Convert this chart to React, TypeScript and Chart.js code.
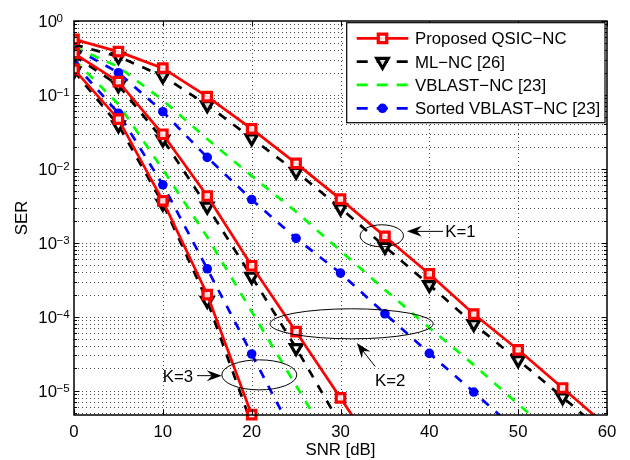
import React, { useEffect, useRef } from 'react';
import { Chart, registerables } from 'chart.js';

Chart.register(...registerables);

// ---------------- data ----------------
const snr = [0, 5, 10, 15, 20, 25, 30, 35, 40, 45, 50, 55, 60];

// K = 1
const proposedK1 = [0.566, 0.385, 0.23, 0.095, 0.0347, 0.0119, 0.0039, 0.00122, 3.8e-4, 1.09e-4, 3.58e-5, 1.09e-5, 3.3e-6];
const mlK1 = [0.48, 0.33, 0.18, 0.073, 0.026, 0.0092, 0.00295, 8.9e-4, 2.7e-4, 8.0e-5, 2.6e-5, 8.2e-6, 2.5e-6];

// K = 2
const proposedK2 = [0.366, 0.151, 0.0294, 0.0043, 4.9e-4, 6.3e-5, 8.0e-6, 1.0e-6];
const mlK2 = [0.34, 0.135, 0.025, 0.0031, 3.5e-4, 3.8e-5, 3.5e-6];
const vblastK2 = [0.447, 0.24, 0.085, 0.0254, 0.00803, 0.00263, 7.8e-4, 2.32e-4, 7.1e-5, 2.24e-5, 6.6e-6, 2.0e-6];
const sortedK2 = [0.43, 0.2, 0.0594, 0.0143, 0.00385, 0.00115, 3.9e-4, 1.1e-4, 3.2e-5, 9.6e-6, 2.8e-6];

// K = 3
const proposedK3 = [0.222, 0.047, 0.0037, 2.0e-4, 4.75e-6];
const mlK3 = [0.21, 0.039, 0.0034, 1.65e-4, 3.5e-6];
const vblastK3 = [0.3, 0.075, 0.0098, 0.0012, 1.18e-4, 1.17e-5, 1.2e-6];
const sortedK3 = [0.268, 0.0566, 0.0061, 4.46e-4, 3.14e-5, 2.2e-6];

// axes
const xMin = 0;
const xMax = 60;
const xTicks = [0, 10, 20, 30, 40, 50, 60];
const yMin = 4.7e-6;
const yMax = 1;
const yDecades = [0, -1, -2, -3, -4, -5];
const xTitle = 'SNR [dB]';
const yTitle = 'SER';

// legend
const legendLabels = ['Proposed QSIC\u2212NC', 'ML\u2212NC [26]', 'VBLAST\u2212NC [23]', 'Sorted VBLAST\u2212NC [23]'];

// annotations (data coordinates: SNR dB, SER)
const annotText = ['K=1', 'K=2', 'K=3'];
const annotTextX = [41.8, 35.6, 13.4];
const annotTextY = [1.45e-3, 1.39e-5, 1.6e-5];
const annotAlign = ['left', 'center', 'right'];
const ellipseCX = [34.65, 31.25, 20.86];
const ellipseCY = [1.245e-3, 8.04e-5, 1.64e-5];
const ellipseRX = [2.44, 9.18, 4.22]; // dB
const ellipseRY = [0.149, 0.203, 0.203]; // decades
const arrowFromX = [41.55, 33.9, 13.85];
const arrowFromY = [1.43e-3, 2.13e-5, 1.6e-5];
const arrowToX = [37.47, 31.84, 16.63];
const arrowToY = [1.43e-3, 4.41e-5, 1.6e-5];

// ---------------- styles ----------------
const FONT = '"Liberation Sans", Arial, Helvetica, sans-serif';
const RED = '#ff0000';
const BLACK = '#000000';
const GREEN = '#00ff00';
const BLUE = '#0000ff';
const DASH = [9, 9];
const LW = 2.7;
const SQ_R = 6;
const SQ_BW = 3.2;
const TRI_R = 6.6;
const TRI_BW = 3.2;
const DOT_R = 4.8;

const toPts = (vals: number[]) => vals.map((v, i) => ({ x: snr[i], y: v }));

const redStyle = {
  borderColor: RED, backgroundColor: RED, borderWidth: LW, borderDash: [],
  pointStyle: 'rect', pointRadius: SQ_R, pointBorderWidth: SQ_BW,
  pointBorderColor: RED, pointBackgroundColor: 'rgba(255,255,255,0.85)',
};
const blackStyle = {
  borderColor: BLACK, backgroundColor: BLACK, borderWidth: LW, borderDash: DASH,
  pointStyle: 'triangle', pointRotation: 180, pointRadius: TRI_R, pointBorderWidth: TRI_BW,
  pointBorderColor: BLACK, pointBackgroundColor: 'rgba(255,255,255,0.85)',
};
const greenStyle = {
  borderColor: GREEN, backgroundColor: GREEN, borderWidth: LW, borderDash: DASH,
  pointRadius: 0,
};
const blueStyle = {
  borderColor: BLUE, backgroundColor: BLUE, borderWidth: LW, borderDash: DASH,
  pointStyle: 'circle', pointRadius: DOT_R, pointBorderWidth: 0,
  pointBorderColor: BLUE, pointBackgroundColor: BLUE,
};

function drawMarker(ctx: CanvasRenderingContext2D, kind: number, x: number, y: number) {
  ctx.save();
  ctx.setLineDash([]);
  if (kind === 0) {
    const s = SQ_R * Math.SQRT1_2;
    ctx.fillStyle = 'rgba(255,255,255,0.85)';
    ctx.strokeStyle = RED;
    ctx.lineWidth = SQ_BW;
    ctx.beginPath();
    ctx.rect(x - s, y - s, 2 * s, 2 * s);
    ctx.fill();
    ctx.stroke();
  } else if (kind === 1) {
    const r = TRI_R;
    ctx.fillStyle = 'rgba(255,255,255,0.85)';
    ctx.strokeStyle = BLACK;
    ctx.lineWidth = TRI_BW;
    ctx.beginPath();
    ctx.moveTo(x, y + r);
    ctx.lineTo(x - r * Math.sin(Math.PI / 3), y - r / 2);
    ctx.lineTo(x + r * Math.sin(Math.PI / 3), y - r / 2);
    ctx.closePath();
    ctx.fill();
    ctx.stroke();
  } else if (kind === 3) {
    ctx.fillStyle = BLUE;
    ctx.beginPath();
    ctx.arc(x, y, DOT_R, 0, Math.PI * 2);
    ctx.fill();
  }
  ctx.restore();
}

const matlabPlugin = {
  id: 'matlabAxes',
  beforeDatasetsDraw(chart: any) {
    const { ctx, chartArea: a, scales } = chart;
    const xs = scales.x;
    const ys = scales.y;
    ctx.save();
    ctx.fillStyle = '#ffffff';
    ctx.fillRect(a.left, a.top, a.right - a.left, a.bottom - a.top);
    ctx.strokeStyle = 'rgba(0,0,0,0.7)';
    ctx.lineWidth = 1;
    ctx.setLineDash([1, 3]);
    for (const v of xTicks) {
      if (v <= xMin || v >= xMax) continue;
      const px = Math.round(xs.getPixelForValue(v)) + 0.5;
      ctx.beginPath();
      ctx.moveTo(px, a.top);
      ctx.lineTo(px, a.bottom);
      ctx.stroke();
    }
    for (let e = -6; e <= 0; e++) {
      for (let m = 1; m <= 9; m++) {
        const v = m * Math.pow(10, e);
        if (v <= yMin || v >= yMax) continue;
        const py = Math.round(ys.getPixelForValue(v)) + 0.5;
        ctx.beginPath();
        ctx.moveTo(a.left, py);
        ctx.lineTo(a.right, py);
        ctx.stroke();
      }
    }
    ctx.restore();
  },
  afterDatasetsDraw(chart: any) {
    const { ctx, chartArea: a, scales } = chart;
    const xs = scales.x;
    const ys = scales.y;
    ctx.save();

    // annotations
    ctx.strokeStyle = '#000';
    ctx.fillStyle = '#000';
    ctx.lineWidth = 1;
    ctx.setLineDash([]);
    for (let i = 0; i < annotText.length; i++) {
      const cx = xs.getPixelForValue(ellipseCX[i]);
      const cy = ys.getPixelForValue(ellipseCY[i]);
      const rx = xs.getPixelForValue(ellipseCX[i] + ellipseRX[i]) - cx;
      const ry = cy - ys.getPixelForValue(ellipseCY[i] * Math.pow(10, ellipseRY[i]));
      ctx.beginPath();
      ctx.ellipse(cx, cy, rx, ry, 0, 0, Math.PI * 2);
      ctx.stroke();

      const fx = xs.getPixelForValue(arrowFromX[i]);
      const fy = ys.getPixelForValue(arrowFromY[i]);
      const tx = xs.getPixelForValue(arrowToX[i]);
      const ty = ys.getPixelForValue(arrowToY[i]);
      const len = Math.hypot(tx - fx, ty - fy);
      const ux = (tx - fx) / len;
      const uy = (ty - fy) / len;
      const hl = 15;
      const hw = 5.5;
      const notch = 10;
      ctx.beginPath();
      ctx.moveTo(fx, fy);
      ctx.lineTo(tx - ux * notch, ty - uy * notch);
      ctx.stroke();
      ctx.beginPath();
      ctx.moveTo(tx, ty);
      ctx.lineTo(tx - ux * hl - uy * hw, ty - uy * hl + ux * hw);
      ctx.lineTo(tx - ux * notch, ty - uy * notch);
      ctx.lineTo(tx - ux * hl + uy * hw, ty - uy * hl - ux * hw);
      ctx.closePath();
      ctx.fill();

      ctx.font = `16.8px ${FONT}`;
      ctx.textAlign = annotAlign[i] as CanvasTextAlign;
      ctx.textBaseline = 'alphabetic';
      ctx.fillText(annotText[i], xs.getPixelForValue(annotTextX[i]), ys.getPixelForValue(annotTextY[i]) + 6);
    }

    // box
    ctx.strokeStyle = '#000';
    ctx.lineWidth = 1.5;
    ctx.strokeRect(a.left, a.top, a.right - a.left, a.bottom - a.top);

    // ticks (inward)
    ctx.lineWidth = 1;
    for (const v of xTicks) {
      const px = Math.round(xs.getPixelForValue(v)) + 0.5;
      ctx.beginPath();
      ctx.moveTo(px, a.bottom);
      ctx.lineTo(px, a.bottom - 5.5);
      ctx.moveTo(px, a.top);
      ctx.lineTo(px, a.top + 5.5);
      ctx.stroke();
    }
    for (let e = -6; e <= 0; e++) {
      for (let m = 1; m <= 9; m++) {
        const v = m * Math.pow(10, e);
        if (v < yMin || v > yMax) continue;
        const py = Math.round(ys.getPixelForValue(v)) + 0.5;
        const tl = m === 1 ? 5.5 : 3;
        ctx.beginPath();
        ctx.moveTo(a.left, py);
        ctx.lineTo(a.left + tl, py);
        ctx.moveTo(a.right, py);
        ctx.lineTo(a.right - tl, py);
        ctx.stroke();
      }
    }

    // tick labels
    ctx.fillStyle = '#000';
    ctx.font = `16.8px ${FONT}`;
    ctx.textAlign = 'center';
    ctx.textBaseline = 'alphabetic';
    for (const v of xTicks) {
      ctx.fillText(String(v), xs.getPixelForValue(v), a.bottom + 21.7);
    }
    for (const d of yDecades) {
      const py = ys.getPixelForValue(Math.pow(10, d));
      ctx.font = `16.8px ${FONT}`;
      ctx.textAlign = 'right';
      ctx.fillText('10', a.left - 17, py + 6.3);
      ctx.font = `11.5px ${FONT}`;
      ctx.textAlign = 'left';
      ctx.fillText(d === 0 ? '0' : '\u2212' + String(-d), a.left - 17.5, py + 1);
    }

    // axis titles
    ctx.font = `16.8px ${FONT}`;
    ctx.textAlign = 'center';
    ctx.fillText(xTitle, (a.left + a.right) / 2, a.bottom + 40);
    ctx.save();
    ctx.translate(27, (a.top + a.bottom) / 2);
    ctx.rotate(-Math.PI / 2);
    ctx.fillText(yTitle, 0, 0);
    ctx.restore();

    // legend
    const lw = 258.3;
    const lh = 100;
    const lx = a.right - 260.3;
    const ly = a.top + 1.7;
    ctx.fillStyle = '#fff';
    ctx.fillRect(lx, ly, lw, lh);
    ctx.strokeStyle = '#000';
    ctx.lineWidth = 1.2;
    ctx.strokeRect(lx, ly, lw, lh);
    const colors = [RED, BLACK, GREEN, BLUE];
    for (let i = 0; i < legendLabels.length; i++) {
      const ry = ly + 15.6 + i * 23.33;
      ctx.save();
      ctx.strokeStyle = colors[i];
      ctx.lineWidth = LW;
      ctx.setLineDash(i === 0 ? [] : [11, 9]);
      ctx.beginPath();
      ctx.moveTo(lx + 10, ry);
      ctx.lineTo(lx + 61.6, ry);
      ctx.stroke();
      ctx.restore();
      drawMarker(ctx, i, lx + 35.8, ry);
      ctx.fillStyle = '#000';
      ctx.font = `16.8px ${FONT}`;
      ctx.textAlign = 'left';
      ctx.fillText(legendLabels[i], lx + 68.3, ry + 6);
    }
    ctx.restore();
  },
};

export default function App() {
  const ref = useRef<HTMLCanvasElement>(null);
  useEffect(() => {
    document.body.style.margin = '0';
    document.body.style.overflow = 'hidden';
    const canvas = ref.current;
    if (!canvas) return;
    const datasets: any[] = [
      { label: 'Proposed QSIC-NC K=1', data: toPts(proposedK1), ...redStyle },
      { label: 'Proposed QSIC-NC K=2', data: toPts(proposedK2), ...redStyle },
      { label: 'Proposed QSIC-NC K=3', data: toPts(proposedK3), ...redStyle, clip: { left: 0, top: 0, right: 0, bottom: 10 } },
      { label: 'ML-NC K=1', data: toPts(mlK1), ...blackStyle },
      { label: 'ML-NC K=2', data: toPts(mlK2), ...blackStyle },
      { label: 'ML-NC K=3', data: toPts(mlK3), ...blackStyle },
      { label: 'Sorted VBLAST-NC K=2', data: toPts(sortedK2), ...blueStyle },
      { label: 'Sorted VBLAST-NC K=3', data: toPts(sortedK3), ...blueStyle },
      { label: 'VBLAST-NC K=2', data: toPts(vblastK2), ...greenStyle },
      { label: 'VBLAST-NC K=3', data: toPts(vblastK3), ...greenStyle },
    ];
    const chart = new Chart(canvas, {
      type: 'line',
      data: { datasets },
      options: {
        animation: false,
        responsive: false,
        events: [],
        layout: { padding: { left: 74, right: 23, top: 21, bottom: 45 } },
        elements: { line: { tension: 0 } },
        plugins: { legend: { display: false }, tooltip: { enabled: false } },
        scales: {
          x: { type: 'linear', min: xMin, max: xMax, display: false },
          y: { type: 'logarithmic', min: yMin, max: yMax, display: false },
        },
      },
      plugins: [matlabPlugin],
    } as any);
    return () => chart.destroy();
  }, []);
  return (
    <div style={{ width: 630, height: 460 }}>
      <canvas ref={ref} width={630} height={460} style={{ display: 'block' }} />
    </div>
  );
}
